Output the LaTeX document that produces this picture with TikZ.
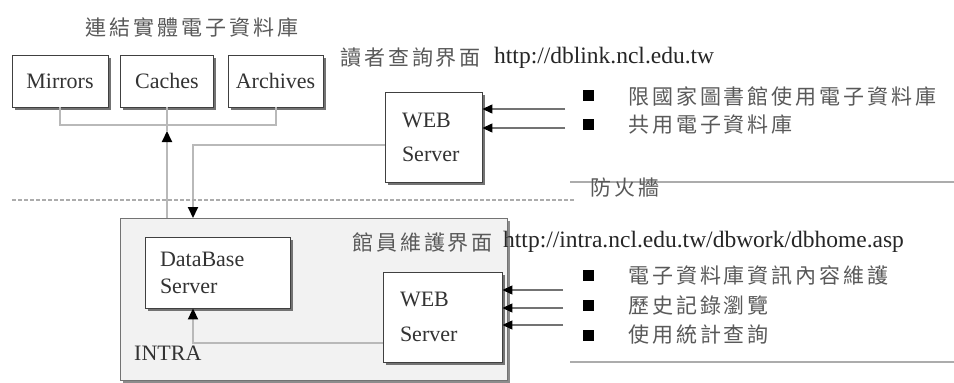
\documentclass[tikz,border=0pt]{standalone}
\usepackage{fontspec}
\setmainfont{Liberation Serif}
\newfontfamily\cjka[LetterSpace=14]{Noto Sans CJK TC}
\usetikzlibrary{arrows.meta,shadows}
\tikzset{
  box/.style={draw=black!75, line width=0.9pt, fill=white,
    drop shadow={shadow xshift=2.5pt, shadow yshift=-2.5pt, fill=black!55, opacity=1},
    inner sep=0pt, font=\fontsize{22}{26}\selectfont, text=black!80},
  intrabox/.style={draw=black!55, line width=0.9pt, fill=black!5,
    drop shadow={shadow xshift=2.5pt, shadow yshift=-2.5pt, fill=black!45, opacity=1},
    inner sep=0pt},
  conn/.style={draw=gray!55, line width=2pt},
  arr/.style={-{Triangle[length=11pt,width=10pt,color=black]}},
  inp/.style={draw=black!55, line width=1.3pt, -{Triangle[length=10pt,width=9pt,color=black]}},
  bullet/.style={fill=black, minimum size=11pt, inner sep=0pt},
  cjkt/.style={font=\cjka\fontsize{21}{24}\selectfont, text=black!65, inner sep=0pt},
  cjkm/.style={font=\cjka\fontsize{21}{24}\selectfont, text=black!65, inner sep=0pt, anchor=west},
  url/.style={text=black!85, inner sep=0pt, anchor=west},
  rule/.style={draw=gray!65, line width=1.3pt},
  fw/.style={draw=gray!65, line width=1.1pt, dash pattern=on 4pt off 2pt}
}
\begin{document}
\begin{tikzpicture}[x=1pt,y=-1pt]
\useasboundingbox[fill=white] (0,0) rectangle (954,383);

% INTRA area
\node[intrabox, minimum width=387pt, minimum height=162pt, anchor=north west] (intra) at (120,218) {};

% title
\node[cjkt] (title) at (192,27) {連結實體電子資料庫};

% top boxes
\node[box, minimum width=96pt, minimum height=52pt] (mir) at (60,81) {Mirrors};
\node[box, minimum width=93pt, minimum height=52pt] (cac) at (167,81) {Caches};
\node[box, minimum width=95pt, minimum height=52pt] (arc) at (275.5,81) {Archives};

% bracket
\draw[conn] (mir.south) -- ++(0,18) -| (arc.south);

% upper web server
\node[box, minimum width=97pt, minimum height=90pt, text width=63pt, inner xsep=17pt, align=left] (web1) at (433.5,137) {WEB\\[8pt]Server};

% reader interface label
\node[cjkm] (rlab) at (340,58) {讀者查詢界面};
\node[url, font=\fontsize{23.5}{26}\selectfont] (rurl) at (494,58) {http://dblink.ncl.edu.tw};

% database server
\node[box, minimum width=145pt, minimum height=71pt, text width=115pt, inner xsep=15pt, align=left, font=\fontsize{22}{27}\selectfont] (db) at (217.5,272.5) {DataBase\\Server};

% lower web server
\node[box, minimum width=119pt, minimum height=90pt, text width=85pt, inner xsep=17pt, align=left] (web2) at (442.5,317) {WEB\\[9pt]Server};

% intra labels
\node[url, font=\fontsize{22}{26}\selectfont, text=black!80] (intralab) at (134,353) {INTRA};
\node[cjkm] (mlab) at (352,242) {館員維護界面};
\node[url, font=\fontsize{23.5}{26}\selectfont] (murl) at (503,242) {http://intra.ncl.edu.tw/dbwork/dbhome.asp};

% caches vertical link with up arrow
\coordinate (cbot) at (cac.south |- intra.north);
\coordinate (cmid) at (167,131);
\draw[conn, arr] (cbot) -- (cmid);
\draw[conn] (cmid) -- (cac.south);

% upper web -> intra (down arrow)
\coordinate (dn) at (193,218);
\draw[conn, arr] ([yshift=-8pt]web1.west) -| (dn);

% lower web -> db
\draw[conn, arr] ([yshift=-26pt]web2.west) -| ([xshift=-24.5pt]db.south);

% firewall
\coordinate (fwa) at (12,200);
\coordinate (fwb) at (575,200);
\draw[fw] (fwa) -- (fwb);
\coordinate (ra) at (570,182);
\coordinate (rb) at (954,182);
\draw[rule] (ra) -- (rb);
\node[cjkm] (fwlab) at (590,188) {防火牆};
\coordinate (rc) at (570,362);
\coordinate (rd) at (954,362);
\draw[rule] (rc) -- (rd);

% upper inputs
\coordinate (in1) at (565,109);
\coordinate (in2) at (565,128);
\draw[inp] (in1) -- (in1 -| web1.east);
\draw[inp] (in2) -- (in2 -| web1.east);
\node[bullet] (b1) at (588,95) {};
\node[bullet] (b2) at (588,124) {};
\node[cjkm] (t1) at (628,96) {限國家圖書館使用電子資料庫};
\node[cjkm] (t2) at (628,125) {共用電子資料庫};

% lower inputs
\coordinate (in3) at (563,290);
\coordinate (in4) at (563,308);
\coordinate (in5) at (563,325);
\draw[inp] (in3) -- (in3 -| web2.east);
\draw[inp] (in4) -- (in4 -| web2.east);
\draw[inp] (in5) -- (in5 -| web2.east);
\node[bullet] (b3) at (588,275) {};
\node[bullet] (b4) at (588,305) {};
\node[bullet] (b5) at (588,335) {};
\node[cjkm] (t3) at (628,275) {電子資料庫資訊內容維護};
\node[cjkm] (t4) at (628,305) {歷史記錄瀏覽};
\node[cjkm] (t5) at (628,335) {使用統計查詢};
\end{tikzpicture}
\end{document}
